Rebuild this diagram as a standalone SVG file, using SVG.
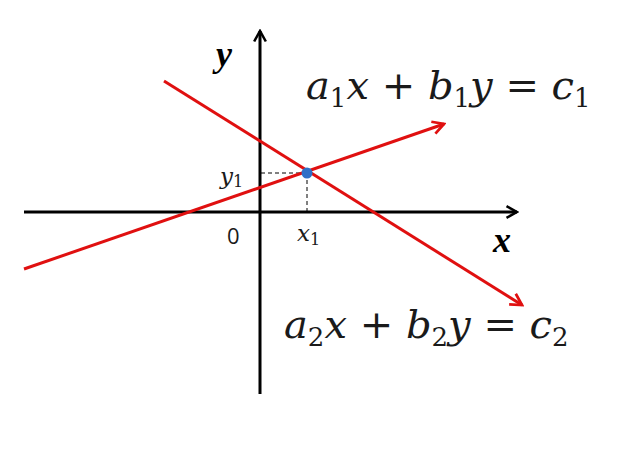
<svg xmlns="http://www.w3.org/2000/svg" width="628" height="464" viewBox="0 0 628 464">
<style>
.axis{stroke:#000;stroke-width:3;fill:none}
.red{stroke:#e01010;stroke-width:3;fill:none}
.dash{stroke:#000;stroke-width:1;stroke-dasharray:4 3;fill:none}
.eq{font-family:"DejaVu Serif","Liberation Serif",serif;font-style:italic;font-size:40px;fill:#1a1a1a}
.sub{font-style:normal;font-size:26px}
.lbl{font-family:"DejaVu Serif","Liberation Serif",serif;font-style:italic;font-size:23px;fill:#1a1a1a}
.lsub{font-style:normal;font-size:16px}
.ax{font-family:"Liberation Serif",serif;font-style:italic;font-weight:bold;font-size:36px;fill:#000}
.zero{font-family:"Open Sans","Liberation Sans",sans-serif;font-size:22px;fill:#1a1a1a}
</style>
<defs>
<marker id="ab" viewBox="0 0 12 12" refX="10" refY="6" markerWidth="14" markerHeight="14" markerUnits="userSpaceOnUse" orient="auto">
<path d="M1,1 L10,6 L1,11" fill="none" stroke="#000" stroke-width="2.2"/>
</marker>
<marker id="ar" viewBox="0 0 12 12" refX="10" refY="6" markerWidth="15" markerHeight="15" markerUnits="userSpaceOnUse" orient="auto">
<path d="M1,1 L10,6 L1,11" fill="none" stroke="#e01010" stroke-width="2.2"/>
</marker>
</defs>
<rect width="628" height="464" fill="#fff"/>
<g id="connectors">
<line class="axis" x1="24" y1="212" x2="517" y2="212" marker-end="url(#ab)"/>
<line class="axis" x1="260" y1="394" x2="260" y2="31" marker-end="url(#ab)"/>
<line class="dash" x1="261" y1="173" x2="307" y2="173"/>
<line class="dash" x1="307" y1="173" x2="307" y2="211"/>
<line class="red" x1="24" y1="269" x2="444" y2="124" marker-end="url(#ar)"/>
<line class="red" x1="164" y1="81" x2="522" y2="305" marker-end="url(#ar)"/>
</g>
<g id="point">
<circle cx="307" cy="173" r="5.5" fill="#2f6fc7"/>
</g>
<g id="labels">
<text class="ax" x="216" y="66">y</text>
<text class="ax" x="493" y="252">x</text>
<text class="zero" x="227" y="244">0</text>
<text class="lbl" x="220" y="184">y<tspan class="lsub" dy="3">1</tspan></text>
<text class="lbl" x="297" y="241">x<tspan class="lsub" dy="4">1</tspan></text>
</g>
<g id="eq1">
<text class="eq" x="306" y="99">a<tspan class="sub" dy="8">1</tspan><tspan dy="-8">x + b</tspan><tspan class="sub" dy="8">1</tspan><tspan dy="-8">y = c</tspan><tspan class="sub" dy="8">1</tspan></text>
</g>
<g id="eq2">
<text class="eq" x="284" y="338">a<tspan class="sub" dy="8">2</tspan><tspan dy="-8">x + b</tspan><tspan class="sub" dy="8">2</tspan><tspan dy="-8">y = c</tspan><tspan class="sub" dy="8">2</tspan></text>
</g>
</svg>
